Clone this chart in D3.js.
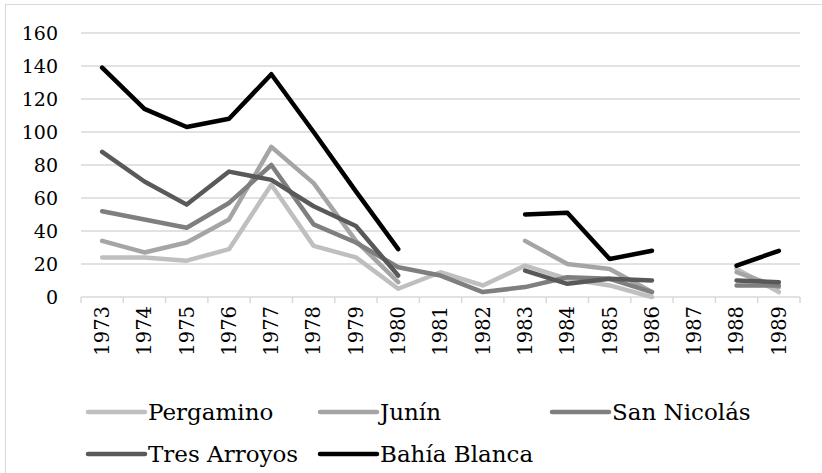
<!DOCTYPE html>
<html>
<head>
<meta charset="utf-8">
<script src="https://cdn.jsdelivr.net/npm/d3@7"></script>
<style>
  body { margin: 0; background: #fff; }
  svg { display: block; font-family: "DejaVu Serif", serif; }
</style>
</head>
<body>
<svg id="chart" width="822" height="473"></svg>
<script>
// years on the x axis
var years = ["1973", "1974", "1975", "1976", "1977", "1978", "1979", "1980", "1981",
             "1982", "1983", "1984", "1985", "1986", "1987", "1988", "1989"];

// one array per city, null = no data (gap in the line)
var pergamino   = [24, 24, 22, 29, 68, 31, 24, 5, 15, 7, 19, 11, 7, 0, null, 17, 3];
var junin       = [34, 27, 33, 47, 91, 69, 34, 9, null, null, 34, 20, 17, 3, null, 15, 6];
var sanNicolas  = [52, 47, 42, 57, 80, 44, 33, 18, 13, 3, 6, 12, 11, 3, null, 7, 7];
var tresArroyos = [88, 70, 56, 76, 71, 55, 43, 13, null, null, 16, 8, 11, 10, null, 10, 9];
var bahiaBlanca = [139, 114, 103, 108, 135, 100, 64, 29, null, null, 50, 51, 23, 28, null, 19, 28];

var yTicks = [0, 20, 40, 60, 80, 100, 120, 140, 160];

var series = [
    { name: "Pergamino", values: pergamino, color: "#bfbfbf" },
    { name: "Junín", values: junin, color: "#a5a5a5" },
    { name: "San Nicolás", values: sanNicolas, color: "#7f7f7f" },
    { name: "Tres Arroyos", values: tresArroyos, color: "#595959" },
    { name: "Bahía Blanca", values: bahiaBlanca, color: "#000000" }
];

var svg = d3.select("#chart");

// light frame round the chart area
svg.append("rect")
    .attr("x", 5.5).attr("y", 4.5)
    .attr("width", 840).attr("height", 490)
    .attr("fill", "none")
    .attr("stroke", "#d9d9d9")
    .attr("stroke-width", 1);

var plot = { left: 81, right: 800, top: 33, bottom: 297 };

var x = d3.scaleBand()
    .domain(years)
    .range([plot.left, plot.right]);

var y = d3.scaleLinear()
    .domain([0, 160])
    .range([plot.bottom, plot.top]);

// horizontal gridlines
svg.append("g")
    .selectAll("line")
    .data(yTicks.filter(function (d) { return d > 0; }))
    .enter().append("line")
    .attr("x1", plot.left).attr("x2", plot.right)
    .attr("y1", function (d) { return y(d); })
    .attr("y2", function (d) { return y(d); })
    .attr("stroke", "#d9d9d9")
    .attr("stroke-width", 1.5);

// y labels
svg.append("g")
    .selectAll("text")
    .data(yTicks)
    .enter().append("text")
    .attr("x", 58)
    .attr("y", function (d) { return y(d); })
    .attr("dy", "0.35em")
    .attr("text-anchor", "end")
    .attr("font-size", 19)
    .attr("fill", "#000")
    .text(function (d) { return d; });

// x axis line + tick marks between categories
var xAxis = svg.append("g");
xAxis.append("line")
    .attr("x1", plot.left).attr("x2", plot.right)
    .attr("y1", plot.bottom).attr("y2", plot.bottom)
    .attr("stroke", "#d9d9d9")
    .attr("stroke-width", 1.5);

var bounds = years.map(function (d) { return x(d); }).concat([plot.right]);
xAxis.selectAll(".tick")
    .data(bounds)
    .enter().append("line")
    .attr("class", "tick")
    .attr("x1", function (d) { return d; })
    .attr("x2", function (d) { return d; })
    .attr("y1", plot.bottom)
    .attr("y2", plot.bottom + 6)
    .attr("stroke", "#d9d9d9")
    .attr("stroke-width", 1.5);

// rotated year labels
xAxis.selectAll(".lbl")
    .data(years)
    .enter().append("text")
    .attr("class", "lbl")
    .attr("transform", function (d) {
        return "translate(" + (x(d) + x.bandwidth() / 2) + "," + (plot.bottom + 9) + ") rotate(-90)";
    })
    .attr("dy", "0.35em")
    .attr("text-anchor", "end")
    .attr("font-size", 19.5)
    .attr("fill", "#000")
    .text(function (d) { return d; });

// lines
var line = d3.line()
    .defined(function (d) { return d != null; })
    .x(function (d, i) { return x(years[i]) + x.bandwidth() / 2; })
    .y(function (d) { return y(d); });

svg.append("g")
    .selectAll("path")
    .data(series)
    .enter().append("path")
    .attr("d", function (s) { return line(s.values); })
    .attr("fill", "none")
    .attr("stroke", function (s) { return s.color; })
    .attr("stroke-width", 4.5)
    .attr("stroke-linejoin", "round")
    .attr("stroke-linecap", "round");

// legend, 3 columns
var legend = svg.append("g")
    .selectAll("g")
    .data(series)
    .enter().append("g")
    .attr("transform", function (s, i) {
        return "translate(" + (88 + (i % 3) * 232) + "," + (412 + Math.floor(i / 3) * 42) + ")";
    });

legend.append("line")
    .attr("x1", 0).attr("x2", 57)
    .attr("y1", 0).attr("y2", 0)
    .attr("stroke", function (s) { return s.color; })
    .attr("stroke-width", 4.5)
    .attr("stroke-linecap", "round");

legend.append("text")
    .attr("x", 60)
    .attr("y", 0)
    .attr("dy", "0.35em")
    .attr("font-size", 23)
    .attr("fill", "#000")
    .text(function (s) { return s.name; });
</script>
</body>
</html>
